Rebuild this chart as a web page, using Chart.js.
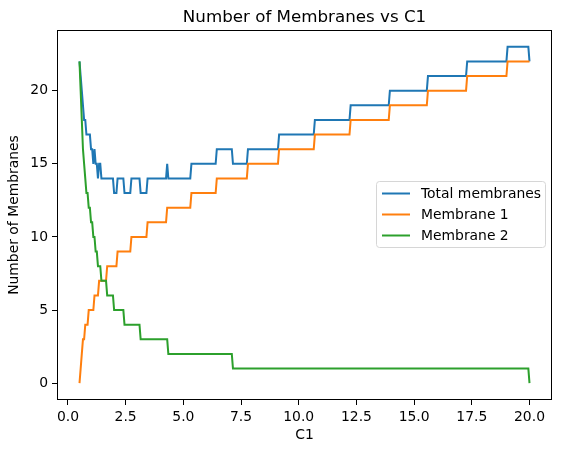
<!DOCTYPE html>
<html>
<head>
<meta charset="utf-8">
<script src="https://cdn.jsdelivr.net/npm/chart.js@4.4.1/dist/chart.umd.min.js"></script>
<style>
  html, body { margin: 0; padding: 0; background: #ffffff; }
  #wrap { width: 563px; height: 453px; }
</style>
</head>
<body>
<div id="wrap"><canvas id="chart" width="563" height="453"></canvas></div>
<script>
// ---- data ----
const chartTitle = "Number of Membranes vs C1";
const xAxisTitle = "C1";
const yAxisTitle = "Number of Membranes";
const seriesNames = ["Total membranes", "Membrane 1", "Membrane 2"];

const c1Values = [
  0.50, 0.55, 0.60, 0.65, 0.70, 0.75, 0.80, 0.85, 0.90, 0.95,
  1.00, 1.05, 1.10, 1.15, 1.20, 1.25, 1.30, 1.35, 1.40, 1.45,
  1.65, 1.70, 1.95, 2.00, 2.10, 2.15, 2.40, 2.45, 2.70, 2.75,
  3.10, 3.15, 3.40, 3.45, 4.25, 4.30, 4.35, 5.30, 5.35, 6.40,
  6.45, 7.10, 7.15, 7.75, 7.80, 9.10, 9.15, 10.65, 10.70, 12.20,
  12.25, 13.90, 13.95, 15.55, 15.60, 17.25, 17.30, 19.00, 19.05, 19.95,
  20.00
];
const totalValues = [
  22, 21, 20, 19, 18, 18, 17, 17, 17, 17,
  16, 16, 15, 16, 15, 15, 14, 15, 15, 14,
  14, 14, 14, 13, 13, 14, 14, 13, 13, 14,
  14, 13, 13, 14, 14, 15, 14, 14, 15, 15,
  16, 16, 15, 15, 16, 16, 17, 17, 18, 18,
  19, 19, 20, 20, 21, 21, 22, 22, 23, 23,
  22
];
const membrane1Values = [
  0, 1, 2, 3, 3, 4, 4, 4, 5, 5,
  5, 5, 5, 6, 6, 6, 6, 7, 7, 7,
  7, 8, 8, 8, 8, 9, 9, 9, 9, 10,
  10, 10, 10, 11, 11, 12, 12, 12, 13, 13,
  14, 14, 14, 14, 15, 15, 16, 16, 17, 17,
  18, 18, 19, 19, 20, 20, 21, 21, 22, 22,
  22
];
const membrane2Values = [
  22, 20, 18, 16, 15, 14, 13, 13, 12, 12,
  11, 11, 10, 10, 9, 9, 8, 8, 8, 7,
  7, 6, 6, 5, 5, 5, 5, 4, 4, 4,
  4, 3, 3, 3, 3, 3, 2, 2, 2, 2,
  2, 2, 1, 1, 1, 1, 1, 1, 1, 1,
  1, 1, 1, 1, 1, 1, 1, 1, 1, 1,
  0
];
const xTickValues = [0, 2.5, 5, 7.5, 10, 12.5, 15, 17.5, 20];
const yTickValues = [0, 5, 10, 15, 20];

// ---- styling ----
const colors = ["#1f77b4", "#ff7f0e", "#2ca02c"];
const FONT = "DejaVu Sans";

function toPoints(ys) { return c1Values.map((x, i) => ({ x: x, y: ys[i] })); }

const seriesValues = [totalValues, membrane1Values, membrane2Values];
const datasets = seriesNames.map((name, i) => ({
  label: name,
  data: toPoints(seriesValues[i]),
  borderColor: colors[i],
  backgroundColor: colors[i],
  borderWidth: 2,
  pointRadius: 0,
  tension: 0,
  fill: false,
  order: 3 - i
}));

const framePlugin = {
  id: 'frame',
  afterDraw(chart) {
    const ctx = chart.ctx;
    const a = chart.chartArea;
    ctx.save();
    // axes frame (all four spines)
    ctx.strokeStyle = '#000';
    ctx.lineWidth = 1;
    ctx.strokeRect(Math.round(a.left) + 0.5, Math.round(a.top) + 0.5,
                   Math.round(a.right - a.left) - 1, Math.round(a.bottom - a.top) - 1);
    // title
    ctx.fillStyle = '#000';
    ctx.font = '16.7px "' + FONT + '"';
    ctx.textAlign = 'center';
    ctx.textBaseline = 'alphabetic';
    ctx.fillText(chartTitle, (a.left + a.right) / 2, a.top - 8.5);
    // legend box
    const bx = 376.5, by = 181.5, bw = 169, bh = 66, r = 3;
    ctx.beginPath();
    ctx.moveTo(bx + r, by);
    ctx.lineTo(bx + bw - r, by);
    ctx.arcTo(bx + bw, by, bx + bw, by + r, r);
    ctx.lineTo(bx + bw, by + bh - r);
    ctx.arcTo(bx + bw, by + bh, bx + bw - r, by + bh, r);
    ctx.lineTo(bx + r, by + bh);
    ctx.arcTo(bx, by + bh, bx, by + bh - r, r);
    ctx.lineTo(bx, by + r);
    ctx.arcTo(bx, by, bx + r, by, r);
    ctx.closePath();
    ctx.fillStyle = 'rgba(255,255,255,0.8)';
    ctx.fill();
    ctx.strokeStyle = '#d6d6d6';
    ctx.lineWidth = 1;
    ctx.stroke();
    ctx.font = '13.9px "' + FONT + '"';
    ctx.textAlign = 'left';
    ctx.textBaseline = 'middle';
    seriesNames.forEach((name, i) => {
      const y = 193.5 + i * 21;
      ctx.strokeStyle = colors[i];
      ctx.lineWidth = 2;
      ctx.beginPath();
      ctx.moveTo(382, y);
      ctx.lineTo(410, y);
      ctx.stroke();
      ctx.fillStyle = '#000';
      ctx.fillText(name, 421, y + 0.5);
    });
    ctx.restore();
  }
};

new Chart(document.getElementById('chart'), {
  type: 'line',
  data: { datasets: datasets },
  options: {
    responsive: false,
    animation: false,
    devicePixelRatio: 1,
    layout: { padding: { top: 30, right: 11, left: 0, bottom: 0 } },
    plugins: {
      legend: { display: false },
      title: { display: false },
      tooltip: { enabled: false }
    },
    scales: {
      x: {
        type: 'linear',
        min: -0.475,
        max: 20.975,
        afterBuildTicks: (s) => { s.ticks = xTickValues.map(v => ({ value: v })); },
        afterFit: (s) => { s.height = 53; s.paddingLeft = 0; s.paddingRight = 0; },
        border: { display: false },
        grid: { drawOnChartArea: false, drawTicks: true, tickLength: 5, tickColor: '#000', tickWidth: 1 },
        ticks: {
          color: '#000',
          padding: 4,
          maxRotation: 0,
          autoSkip: false,
          font: { family: FONT, size: 13.9 },
          callback: (v) => Number(v).toFixed(1)
        },
        title: {
          display: true,
          text: xAxisTitle,
          color: '#000',
          font: { family: FONT, size: 13.9 },
          padding: { top: 0, bottom: 9 }
        }
      },
      y: {
        type: 'linear',
        min: -1.15,
        max: 24.15,
        afterBuildTicks: (s) => { s.ticks = yTickValues.map(v => ({ value: v })); },
        afterFit: (s) => { s.width = 57; s.paddingTop = 0; s.paddingBottom = 0; },
        border: { display: false },
        grid: { drawOnChartArea: false, drawTicks: true, tickLength: 5, tickColor: '#000', tickWidth: 1 },
        ticks: {
          color: '#000',
          padding: 4,
          autoSkip: false,
          font: { family: FONT, size: 13.9 },
          callback: (v) => String(v)
        },
        title: {
          display: true,
          text: yAxisTitle,
          color: '#000',
          font: { family: FONT, size: 13.9 },
          padding: { top: 6, bottom: 0 }
        }
      }
    }
  },
  plugins: [framePlugin]
});
</script>
</body>
</html>
